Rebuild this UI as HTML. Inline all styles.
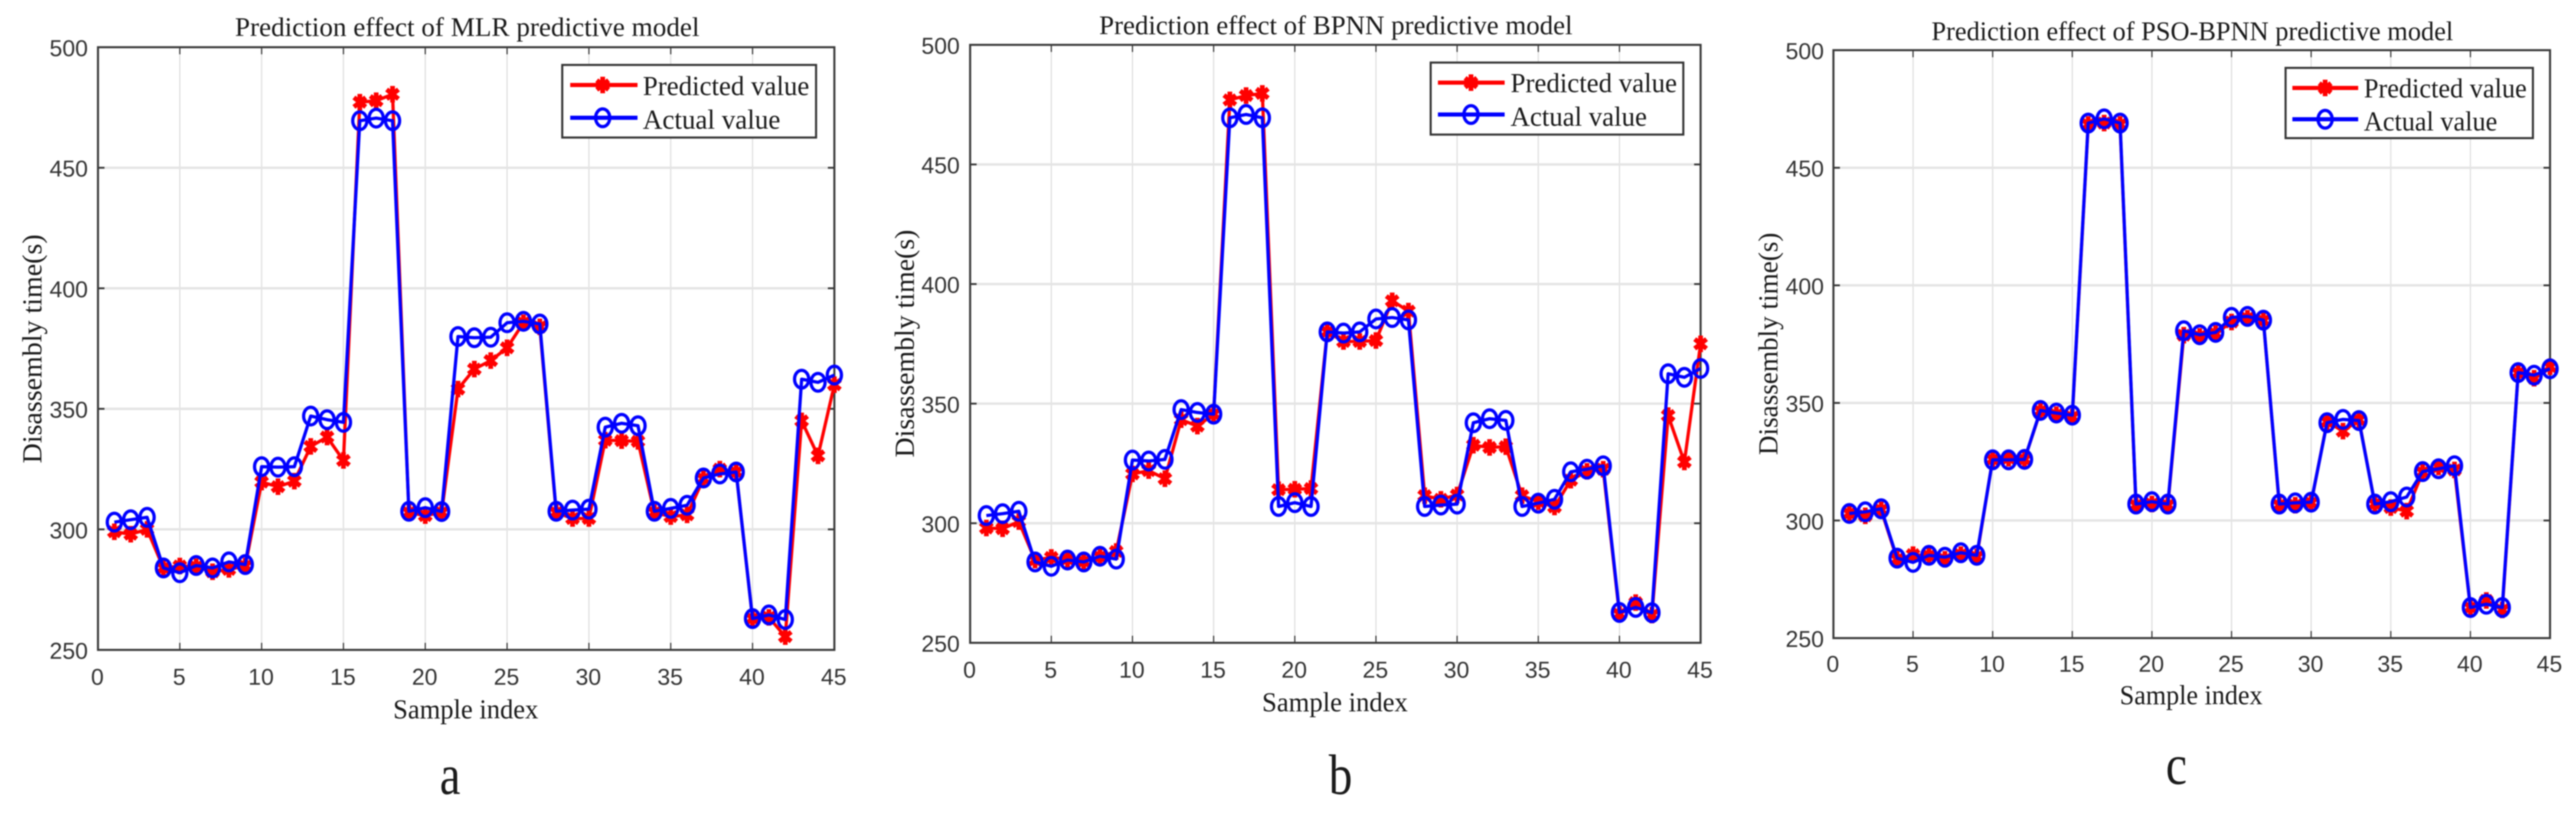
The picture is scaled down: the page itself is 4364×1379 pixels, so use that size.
<!DOCTYPE html>
<html lang="en">
<head>
<meta charset="utf-8">
<title>Prediction effect of three predictive models</title>
<style>
html,body{margin:0;padding:0;background:#fff;}
#figure{display:block;width:4364px;height:1379px;filter:blur(1px);}
.serif{font-family:"Liberation Serif",serif;fill:#1a1a1a;}
.tick{font-family:"Liberation Sans",sans-serif;font-size:39px;fill:#333;}
</style>
</head>
<body>
<svg id="figure" xmlns="http://www.w3.org/2000/svg" width="4364" height="1379" viewBox="0 0 4364 1379">
<rect x="0" y="0" width="4364" height="1379" fill="#fff"/>

<g id="panel-a">
  <g id="plot-a"></g>
  <text class="serif" x="398" y="61" font-size="46" textLength="787" lengthAdjust="spacingAndGlyphs">Prediction effect of MLR predictive model</text>
  <text class="serif" transform="translate(70 785) rotate(-90)" font-size="47" textLength="388" lengthAdjust="spacingAndGlyphs">Disassembly time(s)</text>
  <text class="serif" x="666" y="1217" font-size="47" textLength="246" lengthAdjust="spacingAndGlyphs">Sample index</text>
  <text class="serif" x="745" y="1345" font-size="96" fill="#000" textLength="35" lengthAdjust="spacingAndGlyphs">a</text>
  <g>
    <rect x="952.5" y="110" width="430" height="123" fill="#fff" stroke="#333" stroke-width="3.5"/>
    <line x1="966" y1="144" x2="1080" y2="144" stroke="#f00" stroke-width="7"/>
    <path d="M1021 130V158M1011 136L1031 152M1031 136L1011 152" stroke="#f00" stroke-width="8" fill="none"/>
    <text class="serif" x="1089" y="161" font-size="47" textLength="282" lengthAdjust="spacingAndGlyphs">Predicted value</text>
    <line x1="966" y1="199.5" x2="1080" y2="199.5" stroke="#00f" stroke-width="7"/>
    <ellipse cx="1021" cy="199.5" rx="12" ry="15" stroke="#00f" stroke-width="5.5" fill="none"/>
    <text class="serif" x="1089" y="218" font-size="47" textLength="233" lengthAdjust="spacingAndGlyphs">Actual value</text>
  </g>
</g>

<g id="panel-b">
  <g id="plot-b"></g>
  <text class="serif" x="1862" y="58" font-size="46" textLength="802" lengthAdjust="spacingAndGlyphs">Prediction effect of BPNN predictive model</text>
  <text class="serif" transform="translate(1548 775) rotate(-90)" font-size="47" textLength="386" lengthAdjust="spacingAndGlyphs">Disassembly time(s)</text>
  <text class="serif" x="2138" y="1205" font-size="47" textLength="247" lengthAdjust="spacingAndGlyphs">Sample index</text>
  <text class="serif" x="2251" y="1345" font-size="96" fill="#000" textLength="40" lengthAdjust="spacingAndGlyphs">b</text>
  <g>
    <rect x="2423.7" y="106" width="428" height="122" fill="#fff" stroke="#333" stroke-width="3.5"/>
    <line x1="2436" y1="140" x2="2549" y2="140" stroke="#f00" stroke-width="7"/>
    <path d="M2492 126V154M2482 132L2502 148M2502 132L2482 148" stroke="#f00" stroke-width="8" fill="none"/>
    <text class="serif" x="2559" y="156" font-size="47" textLength="282" lengthAdjust="spacingAndGlyphs">Predicted value</text>
    <line x1="2436" y1="194" x2="2549" y2="194" stroke="#00f" stroke-width="7"/>
    <ellipse cx="2492" cy="194" rx="12" ry="15" stroke="#00f" stroke-width="5.5" fill="none"/>
    <text class="serif" x="2559" y="213" font-size="47" textLength="231" lengthAdjust="spacingAndGlyphs">Actual value</text>
  </g>
</g>

<g id="panel-c">
  <g id="plot-c"></g>
  <text class="serif" x="3272" y="68" font-size="46" textLength="884" lengthAdjust="spacingAndGlyphs">Prediction effect of PSO-BPNN predictive model</text>
  <text class="serif" transform="translate(3011 771) rotate(-90)" font-size="47" textLength="377" lengthAdjust="spacingAndGlyphs">Disassembly time(s)</text>
  <text class="serif" x="3591" y="1193" font-size="47" textLength="242" lengthAdjust="spacingAndGlyphs">Sample index</text>
  <text class="serif" x="3669" y="1328" font-size="96" fill="#000" textLength="36" lengthAdjust="spacingAndGlyphs">c</text>
  <g>
    <rect x="3872" y="115" width="419" height="119" fill="#fff" stroke="#333" stroke-width="3.5"/>
    <line x1="3883.5" y1="149" x2="3995" y2="149" stroke="#f00" stroke-width="7"/>
    <path d="M3939 135V163M3929 141L3949 157M3949 141L3929 157" stroke="#f00" stroke-width="8" fill="none"/>
    <text class="serif" x="4004.6" y="165" font-size="47" textLength="276" lengthAdjust="spacingAndGlyphs">Predicted value</text>
    <line x1="3883.5" y1="202" x2="3995" y2="202" stroke="#00f" stroke-width="7"/>
    <ellipse cx="3939" cy="202" rx="12" ry="15" stroke="#00f" stroke-width="5.5" fill="none"/>
    <text class="serif" x="4004.6" y="221" font-size="47" textLength="226" lengthAdjust="spacingAndGlyphs">Actual value</text>
  </g>
</g>
</svg>

<script>
const sampleIndex = [1,2,3,4,5,6,7,8,9,10,11,12,13,14,15,16,17,18,19,20,21,22,23,24,25,26,27,28,29,30,31,32,33,34,35,36,37,38,39,40,41,42,43,44,45];
const xTickValues = [0,5,10,15,20,25,30,35,40,45];
const yTickValues = [250,300,350,400,450,500];

const predictedMLR = [299,298,300,284,284.8,284.5,282.4,283.4,284.8,319.6,317.7,320,334.4,338.3,328.6,477.2,477.8,480.5,307,305.7,307,358.2,366.5,370,375.3,385.7,384,307,304.5,304.5,337,336.8,336.5,307,305.3,306,321,325,323.7,263,263.5,255.5,345,330.5,360];
const actualMLR = [303,304,305,284,282,285,284,286.5,285.4,326,325.8,326,347,345.5,344.4,469.5,470.6,469.5,307.5,309,307.4,380,379.5,379.7,385.7,386.3,385.2,307.5,308,308.4,342.4,344,343,307.5,308.7,310,321.3,323,323.8,263,264.5,262.6,362.3,361,364];

const predictedBPNN = [298,297.7,300.7,284.6,285.7,285,284,286,288.2,320.6,322,318.6,343.3,340.6,345.6,477,478.8,479.7,314,314.2,314.5,380,376,376,376.4,393,388.7,311.5,310,311.8,332.6,331.7,332,311.5,309,306.8,318,321.7,322.6,262,266.8,261.6,345,325.6,375];
const actualBPNN = [303.2,304,305,283.8,282,284.6,283.8,286.2,285,326.4,326,326.7,347.5,346.3,345.6,469.5,470.9,469.5,307,308.6,307,380,379.5,380,385.4,386,385,307,307.6,308,342,343.7,343,307,308.4,310,321.5,322.6,324,262.7,264.8,262.6,362.5,361,364.7];

const predictedPSO = [303,302,304.5,283.5,285.5,285,283.5,285.5,284.5,326,326.5,326,346.5,345,344,468.4,469,468.4,306.5,307,306.5,378.8,378.3,379.5,384.4,386,385,306.5,306.5,307.5,342,338,342.8,307,305.5,304,320.5,322.8,321.5,263,266,262,362.7,360.5,365.4];
const actualPSO = [303,303.7,305,284,282.2,285.2,284.4,286.3,285.2,325.8,325.8,326,346.8,345.7,344.8,469,470.8,469,307,308,307,380.7,379,380,386.4,386.8,385.2,307,307.5,307.8,341.6,343,342.5,307,308,310,320.8,322,323.3,263,264.4,263,362.9,361.8,364.5];

const SVGNS = 'http://www.w3.org/2000/svg';

function make(parent, tag, attrs) {
  const el = document.createElementNS(SVGNS, tag);
  for (const key in attrs) el.setAttribute(key, attrs[key]);
  parent.appendChild(el);
  return el;
}

function drawPanel(id, prefix, box, tickBase, predicted, actual) {
  const plot = document.getElementById(id);
  const xAt = v => box.left + (v - 0) / 45 * (box.right - box.left);
  const yAt = v => box.bottom - (v - 250) / 250 * (box.bottom - box.top);

  xTickValues.forEach(v => {
    const x = xAt(v);
    if (v > 0 && v < 45) {
      const grid = make(plot, 'line', {x1: x, x2: x, y1: box.top, y2: box.bottom, stroke: '#dedede', 'stroke-width': 2});
      
      
      const tickTop = make(plot, 'line', {x1: x, x2: x, y1: box.top, y2: box.top + 12, stroke: '#333', 'stroke-width': 2});
      
      
      const tickBottom = make(plot, 'line', {x1: x, x2: x, y1: box.bottom, y2: box.bottom - 12, stroke: '#333', 'stroke-width': 2});
      
      
    }
    const label = make(plot, 'text', {class: 'tick', x: x - 1, y: tickBase.x, 'text-anchor': 'middle'});
    label.textContent = String(v);
    
    
  });

  yTickValues.forEach(v => {
    const y = yAt(v);
    if (v > 250 && v < 500) {
      const grid = make(plot, 'line', {x1: box.left, x2: box.right, y1: y, y2: y, stroke: '#e4e4e4', 'stroke-width': 4});
      
      
      const tickLeft = make(plot, 'line', {x1: box.left, x2: box.left + 11, y1: y, y2: y, stroke: '#333', 'stroke-width': 3});
      
      
      const tickRight = make(plot, 'line', {x1: box.right, x2: box.right - 11, y1: y, y2: y, stroke: '#333', 'stroke-width': 3});
      
      
    }
    const label = make(plot, 'text', {class: 'tick', x: tickBase.y, y: y + 15, 'text-anchor': 'end'});
    label.textContent = String(v);
    
    
  });

  const frame = make(plot, 'path', {
    d: 'M' + box.left + ' ' + box.bottom + 'V' + box.top + 'H' + box.right + 'V' + box.bottom + 'Z',
    fill: 'none', stroke: '#3a3a3a', 'stroke-width': 3.5
  });
  
  

  const predictedLine = make(plot, 'polyline', {
    points: sampleIndex.map((s, i) => xAt(s) + ',' + yAt(predicted[i])).join(' '),
    fill: 'none', stroke: '#f00', 'stroke-width': 5.5, 'stroke-linejoin': 'round'
  });
  
  

  sampleIndex.forEach((s, i) => {
    const x = xAt(s), y = yAt(predicted[i]);
    const star = make(plot, 'path', {
      d: 'M' + x + ' ' + (y - 14) + 'V' + (y + 14) +
         'M' + (x - 10) + ' ' + (y - 8) + 'L' + (x + 10) + ' ' + (y + 8) +
         'M' + (x + 10) + ' ' + (y - 8) + 'L' + (x - 10) + ' ' + (y + 8),
      stroke: '#f00', 'stroke-width': 8, fill: 'none'
    });
    
    
  });

  const actualLine = make(plot, 'polyline', {
    points: sampleIndex.map((s, i) => xAt(s) + ',' + yAt(actual[i])).join(' '),
    fill: 'none', stroke: '#00f', 'stroke-width': 5.5, 'stroke-linejoin': 'round'
  });
  
  

  sampleIndex.forEach((s, i) => {
    const point = make(plot, 'ellipse', {
      cx: xAt(s), cy: yAt(actual[i]), rx: 12, ry: 15,
      fill: 'none', stroke: '#00f', 'stroke-width': 5.5
    });
    
    
  });
}

drawPanel('plot-a', 'mlr', {left: 166, right: 1413.5, top: 80, bottom: 1101}, {x: 1160, y: 149}, predictedMLR, actualMLR);
drawPanel('plot-b', 'bpnn', {left: 1643.5, right: 2881, top: 76, bottom: 1089}, {x: 1148, y: 1626}, predictedBPNN, actualBPNN);
drawPanel('plot-c', 'pso-bpnn', {left: 3106, right: 4320, top: 85, bottom: 1081}, {x: 1138, y: 3090}, predictedPSO, actualPSO);
</script>
</body>
</html>
